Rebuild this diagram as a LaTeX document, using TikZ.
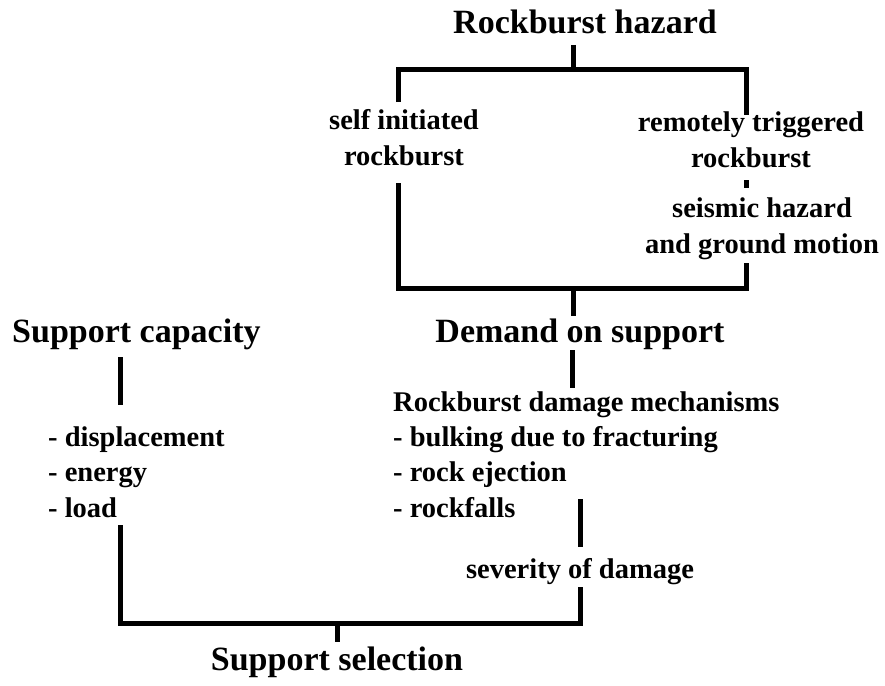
\documentclass[tikz,border=0pt]{standalone}
\usepackage{fontspec}
\setmainfont{Liberation Serif}
\usetikzlibrary{calc}
\tikzset{
  big/.style={font=\bfseries\fontsize{34}{40}\selectfont, inner sep=0pt, anchor=base},
  small/.style={font=\bfseries\fontsize{28.5}{35.3}\selectfont, inner sep=0pt, anchor=base, align=center},
  list/.style={small, anchor=base west, align=left},
  link/.style={line width=5pt}
}
\begin{document}
\begin{tikzpicture}[x=1pt,y=-1pt]
\useasboundingbox (0,0) rectangle (885,685);
% text (base of a multi-line node = its last line)
\node[big] (haz) at (585,34) {Rockburst hazard};
\node[small] (self) at (404,165) {self initiated\\rockburst};
\node[small] (remote) at (751,167) {remotely triggered\\rockburst};
\node[small] (seis) at (762,253) {seismic hazard\\and ground motion};
\node[big] (dem) at (580,342) {Demand on support};
\node[list] (mech) at (393,517) {Rockburst damage mechanisms\\- bulking due to fracturing\\- rock ejection\\- rockfalls};
\node[small] (sev) at (580,578) {severity of damage};
\node[big, anchor=base west] (cap) at (12,342) {Support capacity};
\node[list] (prop) at (48,517) {- displacement\\- energy\\- load};
\node[big] (sel) at (337,670) {Support selection};
% upper fork
\draw[link] ($(haz.base)+(-12,11)$) -- ++(0,24);
\draw[link] ($(self.base)+(-6,-63)$) |- ($(remote.base)+(-5,-98)$) -- ++(0,46);
\draw[link] ($(remote.base)+(-5,13)$) -- ++(0,8);
\draw[link] ($(self.base)+(-6,18)$) |- ($(seis.base)+(-16,35)$) -- ++(0,-25);
\draw[link] ($(dem.base)+(-7,-54)$) -- ++(0,28);
% demand side
\draw[link] ($(dem.base)+(-8,8)$) -- ++(0,38);
\draw[link] ($(sev.base)+(0,-79)$) -- ++(0,48);
% capacity side
\draw[link] ($(cap.base west)+(108,15)$) -- ++(0,48);
\draw[link] ($(sev.base)+(0,9)$) |- ($(prop.base west)+(72,106)$) -- ++(0,-98);
\draw[link] ($(sel.base)+(0,-47)$) -- ++(0,19);
\end{tikzpicture}
\end{document}
